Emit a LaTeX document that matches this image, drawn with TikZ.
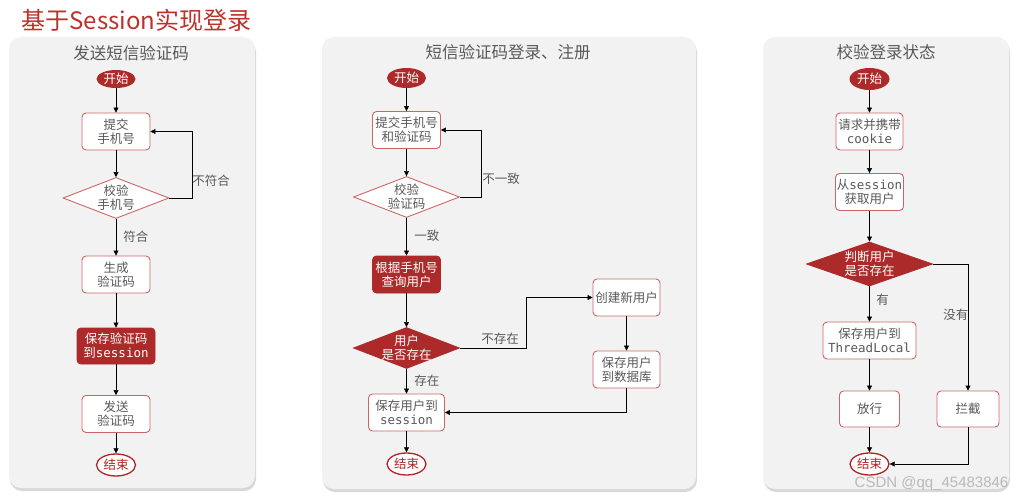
\documentclass[tikz,border=0pt]{standalone}
\usepackage{fontspec}
\setmainfont{Noto Sans CJK SC}
\setmonofont{DejaVu Sans Mono}
\newfontfamily\markfont{Liberation Sans}
\usetikzlibrary{shapes.geometric,arrows.meta,shadows}
\definecolor{darkred}{HTML}{AD2A2A}
\definecolor{boxred}{HTML}{CC6666}
\definecolor{endred}{HTML}{B22222}
\definecolor{txtgray}{HTML}{595959}
\definecolor{panelgray}{HTML}{F2F2F2}
\definecolor{titlered}{HTML}{C0302B}

\begin{document}
\begin{tikzpicture}[x=1pt,y=-1pt,->,>={Triangle[length=5pt,width=5pt]},semithick,
                    font=\fontsize{12.5}{14}\selectfont]
  \tikzstyle{panel}=[fill=panelgray,rounded corners=12pt,
                     drop shadow={shadow xshift=1pt,shadow yshift=-3pt,opacity=.3}]
  \tikzstyle{startnode}=[ellipse,fill=darkred,text=white,minimum width=39pt,
                         minimum height=20pt,inner sep=0pt]
  \tikzstyle{endnode}=[ellipse,draw=endred,line width=1.3pt,fill=white,text=endred,
                       minimum width=39pt,minimum height=22pt,inner sep=0pt]
  \tikzstyle{box}=[rectangle,rounded corners=4pt,draw=boxred,line width=0.9pt,fill=white,
                   text=txtgray,align=center,minimum width=68pt,minimum height=37pt,
                   inner sep=1pt]
  \tikzstyle{redbox}=[box,draw=darkred,fill=darkred,text=white]
  \tikzstyle{check}=[diamond,draw=boxred,line width=0.9pt,fill=white,text=txtgray,
                     align=center,aspect=2.6,inner sep=-6pt,minimum width=106pt,
                     minimum height=41pt]
  \tikzstyle{redcheck}=[check,draw=darkred,fill=darkred,text=white]
  \tikzstyle{lbl}=[text=txtgray,anchor=west,inner sep=1pt]
  \tikzstyle{ptitle}=[text=txtgray,font=\fontsize{16.5}{18}\selectfont]

  \fill[white] (0,0) rectangle (1023,500);
  \useasboundingbox (0,0) rectangle (1023,500);

  % panels
  \path[panel] (9,37) rectangle (255,488);
  \path[panel] (322,37) rectangle (696,489);
  \path[panel] (763,37) rectangle (1009,489);

  \node[text=titlered,font=\fontsize{24}{26}\selectfont,anchor=west] (title) at (18,20)
       {基于Session实现登录};
  \node[ptitle] (t1) at (131,53) {发送短信验证码};
  \node[ptitle] (t2) at (508,52) {短信验证码登录、注册};
  \node[ptitle] (t3) at (886,52) {校验登录状态};

  % send code
  \node[startnode,minimum height=18pt] (start1) at (116,79) {开始};
  \node[box] (sub1) at (116,131.5) {提交\\手机号};
  \node[check] (chk1) at (116,198) {校验\\手机号};
  \node[box] (gen1) at (116,274.5) {生成\\验证码};
  \node[redbox,minimum width=78pt,minimum height=36pt] (save1) at (116,346)
       {保存验证码\\到\texttt{session}};
  \node[box] (send1) at (116,414) {发送\\验证码};
  \node[endnode] (end1) at (116,465) {结束};

  \draw (start1) -- (sub1);
  \draw (sub1) -- (chk1);
  \draw (chk1.east) -- ++(23,0) |- (sub1.east);
  \draw (chk1) -- (gen1);
  \draw (gen1) -- (save1);
  \draw (save1) -- (send1);
  \draw (send1) -- (end1);
  \node[lbl] (l1) at (191,181) {不符合};
  \node[lbl] (l2) at (122,237) {符合};

  % login / register
  \node[startnode] (start2) at (406.5,78) {开始};
  \node[box] (sub2) at (406.5,130) {提交手机号\\和验证码};
  \node[check] (chk2) at (406.5,197) {校验\\验证码};
  \node[redbox] (qry2) at (406.5,274.5) {根据手机号\\查询用户};
  \node[redcheck] (ex2) at (406.5,348) {用户\\是否存在};
  \node[box,minimum width=67pt] (new2) at (626.5,297.5) {创建新用户};
  \node[box,minimum width=67pt] (db2) at (626.5,369.5) {保存用户\\到数据库};
  \node[box,minimum width=76pt] (ses2) at (406.5,412.5) {保存用户到\\\texttt{session}};
  \node[endnode] (end2) at (406.5,464) {结束};

  \draw (start2) -- (sub2);
  \draw (sub2) -- (chk2);
  \draw (chk2.east) -- ++(21,0) |- (sub2.east);
  \draw (chk2) -- (qry2);
  \draw (qry2) -- (ex2);
  \draw (ex2.east) -- ++(66,0) |- (new2.west);
  \draw (new2) -- (db2);
  \draw (ex2) -- (ses2);
  \draw (db2.south) |- (ses2.east);
  \draw (ses2) -- (end2);
  \node[lbl] (l3) at (481,179) {不一致};
  \node[lbl] (l4) at (413,236) {一致};
  \node[lbl,anchor=center] (l5) at (500,339) {不存在};
  \node[lbl] (l6) at (413,381) {存在};

  % check login state
  \node[startnode,minimum width=40pt,minimum height=22pt] (start3) at (869.5,79) {开始};
  \node[box,minimum width=67pt] (req3) at (869.5,131.5) {请求并携带\\\texttt{cookie}};
  \node[box] (get3) at (869.5,192) {从\texttt{session}\\获取用户};
  \node[redcheck,minimum width=126pt,minimum height=44pt] (jud3) at (869.5,264)
       {判断用户\\是否存在};
  \node[box,minimum width=93pt] (tl3) at (869.5,340.5) {保存用户到\\\texttt{ThreadLocal}};
  \node[box,minimum width=60pt,minimum height=36pt] (go3) at (869.5,409) {放行};
  \node[box,minimum width=62pt,minimum height=36pt] (blk3) at (968,409) {拦截};
  \node[endnode] (end3) at (869.5,464) {结束};

  \draw (start3) -- (req3);
  \draw (req3) -- (get3);
  \draw (get3) -- (jud3);
  \draw (jud3) -- (tl3);
  \draw (tl3) -- (go3);
  \draw (go3) -- (end3);
  \draw (jud3.east) -| (blk3.north);
  \draw (blk3.south) |- (end3.east);
  \node[lbl] (l7) at (875,300) {有};
  \node[lbl] (l8) at (942,315) {没有};

  \node[text=gray!55,font=\fontsize{15}{17}\markfont,anchor=east] (mark) at (1012,484)
       {CSDN @qq\_45483846};
\end{tikzpicture}
\end{document}
